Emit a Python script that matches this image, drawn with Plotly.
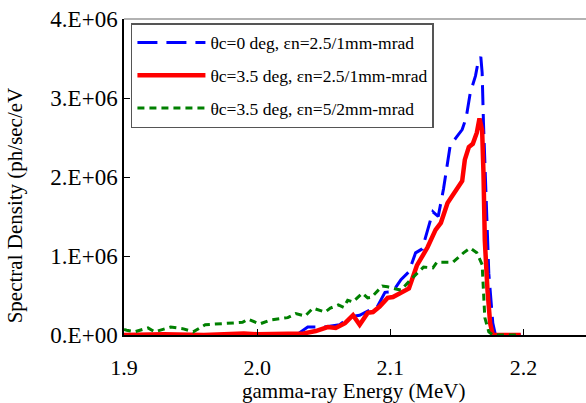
import plotly.graph_objects as go

# Series data (energy in MeV, spectral density in 1e6 ph/sec/eV)
blue_E = [1.900, 2.030, 2.032, 2.038, 2.050, 2.062, 2.070, 2.077, 2.085, 2.090, 2.096, 2.102,
          2.108, 2.114, 2.119, 2.124, 2.132, 2.136, 2.140, 2.145, 2.150, 2.154, 2.157, 2.160,
          2.164, 2.166, 2.168, 2.169, 2.170, 2.172, 2.174, 2.177, 2.179, 2.198]
blue_V = [0.0, 0.0, 0.03, 0.10, 0.10, 0.13, 0.23, 0.25, 0.32, 0.35, 0.54, 0.55,
          0.70, 0.80, 1.04, 1.09, 1.56, 1.50, 1.85, 2.40, 2.51, 2.60, 2.75, 3.06,
          3.28, 3.46, 3.52, 3.32, 2.68, 1.62, 0.78, 0.15, 0.0, 0.0]

red_E = [1.900, 1.930, 1.960, 1.990, 2.000, 2.020, 2.035, 2.044, 2.053, 2.059, 2.066, 2.072,
         2.077, 2.083, 2.087, 2.092, 2.098, 2.102, 2.108, 2.114, 2.120, 2.128, 2.134, 2.138,
         2.143, 2.150, 2.154, 2.156, 2.159, 2.162, 2.165, 2.167, 2.169, 2.170, 2.171, 2.173,
         2.175, 2.177, 2.198]
red_V = [0.0, 0.01, 0.0, 0.02, 0.01, 0.02, 0.02, 0.05, 0.10, 0.09, 0.15, 0.25,
         0.13, 0.28, 0.29, 0.36, 0.47, 0.48, 0.53, 0.59, 0.88, 1.11, 1.33, 1.42,
         1.67, 1.86, 1.95, 2.22, 2.38, 2.42, 2.56, 2.74, 2.59, 2.05, 1.20, 0.57,
         0.15, 0.0, 0.0]

green_E = [1.900, 1.902, 1.908, 1.918, 1.923, 1.935, 1.944, 1.952, 1.961, 1.974, 1.989, 1.993,
           2.002, 2.010, 2.023, 2.029, 2.036, 2.042, 2.051, 2.055, 2.061, 2.065, 2.068, 2.072,
           2.079, 2.083, 2.086, 2.094, 2.098, 2.105, 2.108, 2.117, 2.125, 2.132, 2.135, 2.147,
           2.155, 2.160, 2.165, 2.169, 2.170, 2.171, 2.174, 2.177, 2.198]
green_V = [0.07, 0.06, 0.04, 0.09, 0.04, 0.10, 0.08, 0.04, 0.13, 0.14, 0.16, 0.20,
           0.14, 0.19, 0.22, 0.27, 0.24, 0.34, 0.29, 0.34, 0.38, 0.35, 0.44, 0.42,
           0.53, 0.47, 0.48, 0.62, 0.61, 0.58, 0.57, 0.73, 0.86, 0.85, 0.92, 0.92,
           1.04, 1.10, 1.04, 0.89, 0.61, 0.22, 0.04, 0.0, 0.0]

names = ["θc=0 deg, εn=2.5/1mm-mrad",
         "θc=3.5 deg, εn=2.5/1mm-mrad",
         "θc=3.5 deg, εn=5/2mm-mrad"]

x_ticks = [1.9, 2.0, 2.1, 2.2]
x_ticklabels = ["1.9", "2.0", "2.1", "2.2"]
y_ticks = [0, 1e6, 2e6, 3e6, 4e6]
y_ticklabels = ["0.E+00", "1.E+06", "2.E+06", "3.E+06", "4.E+06"]

FONT = "Liberation Serif"

fig = go.Figure()
fig.add_trace(go.Scatter(x=blue_E, y=[v * 1e6 for v in blue_V], mode="lines", name=names[0],
                         legendgroup="a",
                         line=dict(color="#0000FF", width=3, dash="20px,9px")))
fig.add_trace(go.Scatter(x=red_E, y=[v * 1e6 for v in red_V], mode="lines", name=names[1],
                         legendgroup="b",
                         line=dict(color="#FF0000", width=4.5)))
fig.add_trace(go.Scatter(x=green_E, y=[v * 1e6 for v in green_V], mode="lines", name=names[2],
                         legendgroup="c",
                         line=dict(color="#008000", width=3, dash="7px,5px")))

fig.update_layout(
    width=586, height=403,
    margin=dict(l=124, r=0, t=19, b=68),
    paper_bgcolor="white", plot_bgcolor="white",
    font=dict(family=FONT, color="black", size=20),
    showlegend=True,
    legend=dict(x=0.015, y=0.987, xanchor="left", yanchor="top",
                bgcolor="white", bordercolor="#555555", borderwidth=1.5,
                font=dict(family=FONT, size=17.5, color="black"),
                tracegroupgap=7, itemwidth=68),
    xaxis=dict(range=[1.9, 2.247], tickvals=x_ticks, ticktext=x_ticklabels,
               showgrid=False, zeroline=False, showline=True, linecolor="black", linewidth=1.5,
               ticks="inside", ticklen=6, tickcolor="black", tickwidth=1,
               tickfont=dict(family=FONT, size=22), ticklabelstandoff=12),
    yaxis=dict(range=[0, 4e6], tickvals=y_ticks, ticktext=y_ticklabels,
               ticksuffix="\u00a0",
               showgrid=False, zeroline=False, showline=True, linecolor="black", linewidth=1.5,
               ticks="inside", ticklen=6, tickcolor="black", tickwidth=1,
               tickfont=dict(family=FONT, size=23), ticklabelstandoff=0),
    annotations=[
        dict(text="gamma-ray Energy (MeV)", x=0.498, y=-0.177, xref="paper", yref="paper",
             xanchor="center", yanchor="middle", showarrow=False,
             font=dict(family=FONT, size=21)),
        dict(text="Spectral Density (ph/sec/eV", x=-0.234, y=0.41, xref="paper", yref="paper",
             xanchor="center", yanchor="middle", textangle=-90, showarrow=False,
             font=dict(family=FONT, size=21)),
    ],
    shapes=[dict(type="line", xref="paper", yref="paper", x0=0, x1=1, y0=1, y1=1,
                 line=dict(color="#999999", width=1.5))],
)

fig.write_html("out.html", config={"displayModeBar": False},
               post_script="document.body.style.margin='0';document.body.style.overflow='hidden';")
